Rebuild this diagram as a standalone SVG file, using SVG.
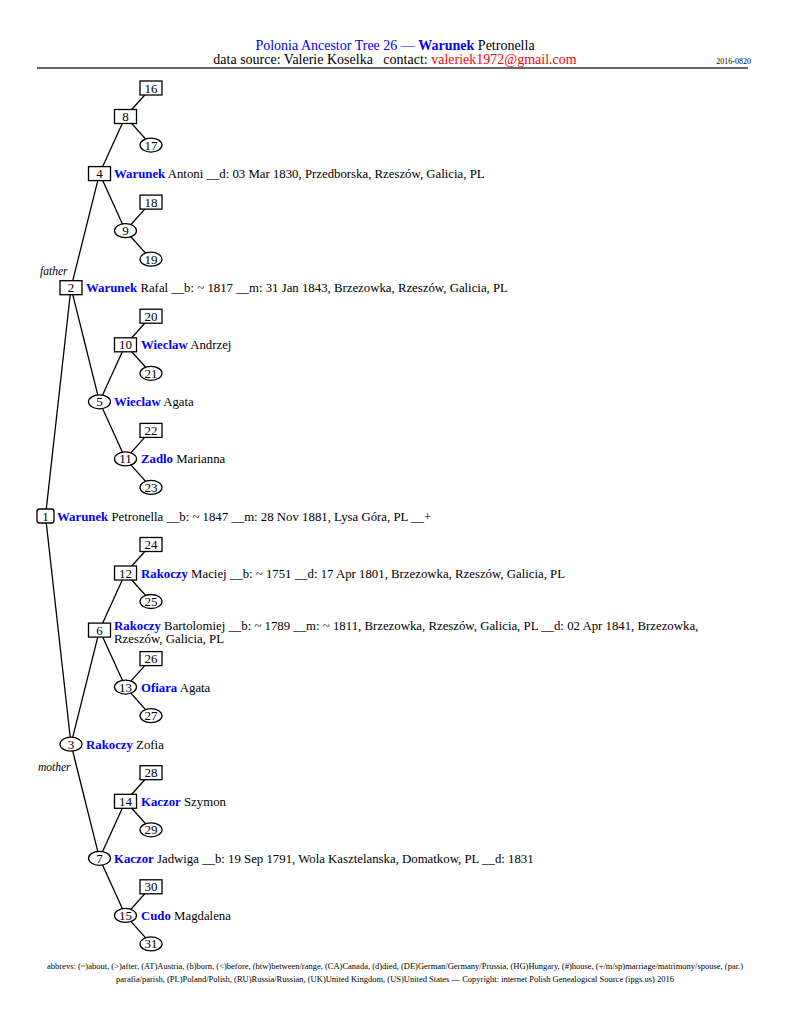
<svg xmlns="http://www.w3.org/2000/svg" width="791" height="1024" viewBox="0 0 791 1024">
<style>
text{font-family:"Liberation Serif","Times New Roman",serif;fill:#000}
.hd{font-size:14px}
.n{font-size:13px;text-anchor:middle}
.p{font-size:12.8px}
.s{font-weight:bold;fill:#0000ff}
.b{fill:#0000ff}
.r{fill:#ff0000}
.box{fill:#fff;stroke:#000;stroke-width:1.3}
.ln{stroke:#000;stroke-width:1.3;fill:none}
.lab{font-size:11.5px;font-style:italic}
.ft{font-size:8.5px;text-anchor:middle}
</style>
<rect width="791" height="1024" fill="#fff"/>
<g id="header">
<text class="hd" x="395" y="50" text-anchor="middle"><tspan class="b">Polonia Ancestor Tree 26 — </tspan><tspan class="s">Warunek</tspan> Petronella</text>
<text class="hd" x="395" y="64" text-anchor="middle" style="white-space:pre">data source: Valerie Koselka   contact: <tspan class="r">valeriek1972@gmail.com</tspan></text>
<text x="751" y="63.5" font-size="8" text-anchor="end">2016-0820</text>
<line x1="37" y1="68" x2="748" y2="68" stroke="#666" stroke-width="2"/>
</g>
<g id="connectors" class="ln">
<line x1="45.5" y1="516" x2="71" y2="287.7"/>
<line x1="45.5" y1="516" x2="71" y2="744.2"/>
<line x1="71" y1="287.7" x2="99.5" y2="173.6"/>
<line x1="71" y1="287.7" x2="99.5" y2="401.8"/>
<line x1="71" y1="744.2" x2="99.5" y2="630.1"/>
<line x1="71" y1="744.2" x2="99.5" y2="858.3"/>
<line x1="99.5" y1="173.6" x2="125.5" y2="116.5"/>
<line x1="99.5" y1="173.6" x2="125.5" y2="230.7"/>
<line x1="99.5" y1="401.8" x2="125.5" y2="344.8"/>
<line x1="99.5" y1="401.8" x2="125.5" y2="458.9"/>
<line x1="99.5" y1="630.1" x2="125.5" y2="573"/>
<line x1="99.5" y1="630.1" x2="125.5" y2="687.1"/>
<line x1="99.5" y1="858.3" x2="125.5" y2="801.3"/>
<line x1="99.5" y1="858.3" x2="125.5" y2="915.4"/>
<line x1="125.5" y1="116.5" x2="151" y2="88"/>
<line x1="125.5" y1="116.5" x2="151" y2="145.1"/>
<line x1="125.5" y1="230.7" x2="151" y2="202.1"/>
<line x1="125.5" y1="230.7" x2="151" y2="259.2"/>
<line x1="125.5" y1="344.8" x2="151" y2="316.2"/>
<line x1="125.5" y1="344.8" x2="151" y2="373.3"/>
<line x1="125.5" y1="458.9" x2="151" y2="430.4"/>
<line x1="125.5" y1="458.9" x2="151" y2="487.4"/>
<line x1="125.5" y1="573" x2="151" y2="544.5"/>
<line x1="125.5" y1="573" x2="151" y2="601.5"/>
<line x1="125.5" y1="687.1" x2="151" y2="658.6"/>
<line x1="125.5" y1="687.1" x2="151" y2="715.7"/>
<line x1="125.5" y1="801.3" x2="151" y2="772.7"/>
<line x1="125.5" y1="801.3" x2="151" y2="829.8"/>
<line x1="125.5" y1="915.4" x2="151" y2="886.8"/>
<line x1="125.5" y1="915.4" x2="151" y2="943.9"/>
</g>
<g id="labels">
<text class="lab" x="40" y="275">father</text>
<text class="lab" x="38" y="771">mother</text>
</g>
<g id="n1"><rect class="box" x="37" y="509" width="17" height="14" rx="2.5"/><text class="n" x="45.5" y="520.5">1</text><text class="p" x="57" y="520.5"><tspan class="s">Warunek</tspan> Petronella __b: ~ 1847 __m: 28 Nov 1881, Lysa Góra, PL __+</text></g>
<g id="n2"><rect class="box" x="60" y="280.7" width="22" height="14"/><text class="n" x="71" y="292.2">2</text><text class="p" x="86" y="292.2"><tspan class="s">Warunek</tspan> Rafal __b: ~ 1817 __m: 31 Jan 1843, Brzezowka, Rzeszów, Galicia, PL</text></g>
<g id="n3"><ellipse class="box" cx="71" cy="744.2" rx="11" ry="7"/><text class="n" x="71" y="748.7">3</text><text class="p" x="86" y="748.7"><tspan class="s">Rakoczy</tspan> Zofia</text></g>
<g id="n4"><rect class="box" x="88.5" y="166.6" width="22" height="14"/><text class="n" x="99.5" y="178.1">4</text><text class="p" x="114" y="178.1"><tspan class="s">Warunek</tspan> Antoni __d: 03 Mar 1830, Przedborska, Rzeszów, Galicia, PL</text></g>
<g id="n5"><ellipse class="box" cx="99.5" cy="401.8" rx="11" ry="7"/><text class="n" x="99.5" y="406.3">5</text><text class="p" x="114" y="406.3"><tspan class="s">Wieclaw</tspan> Agata</text></g>
<g id="n6"><rect class="box" x="88.5" y="623.1" width="22" height="14"/><text class="n" x="99.5" y="634.6">6</text><text class="p" x="114" y="629.5"><tspan class="s">Rakoczy</tspan> Bartolomiej __b: ~ 1789 __m: ~ 1811, Brzezowka, Rzeszów, Galicia, PL __d: 02 Apr 1841, Brzezowka,</text><text class="p" x="114" y="642.5">Rzeszów, Galicia, PL</text></g>
<g id="n7"><ellipse class="box" cx="99.5" cy="858.3" rx="11" ry="7"/><text class="n" x="99.5" y="862.8">7</text><text class="p" x="114" y="862.8"><tspan class="s">Kaczor</tspan> Jadwiga __b: 19 Sep 1791, Wola Kasztelanska, Domatkow, PL __d: 1831</text></g>
<g id="n8"><rect class="box" x="114.5" y="109.5" width="22" height="14"/><text class="n" x="125.5" y="121">8</text></g>
<g id="n9"><ellipse class="box" cx="125.5" cy="230.7" rx="11" ry="7"/><text class="n" x="125.5" y="235.2">9</text></g>
<g id="n10"><rect class="box" x="114.5" y="337.8" width="22" height="14"/><text class="n" x="125.5" y="349.3">10</text><text class="p" x="141" y="349.3"><tspan class="s">Wieclaw</tspan> Andrzej</text></g>
<g id="n11"><ellipse class="box" cx="125.5" cy="458.9" rx="11" ry="7"/><text class="n" x="125.5" y="463.4">11</text><text class="p" x="141" y="463.4"><tspan class="s">Zadlo</tspan> Marianna</text></g>
<g id="n12"><rect class="box" x="114.5" y="566" width="22" height="14"/><text class="n" x="125.5" y="577.5">12</text><text class="p" x="141" y="577.5"><tspan class="s">Rakoczy</tspan> Maciej __b: ~ 1751 __d: 17 Apr 1801, Brzezowka, Rzeszów, Galicia, PL</text></g>
<g id="n13"><ellipse class="box" cx="125.5" cy="687.1" rx="11" ry="7"/><text class="n" x="125.5" y="691.6">13</text><text class="p" x="141" y="691.6"><tspan class="s">Ofiara</tspan> Agata</text></g>
<g id="n14"><rect class="box" x="114.5" y="794.3" width="22" height="14"/><text class="n" x="125.5" y="805.8">14</text><text class="p" x="141" y="805.8"><tspan class="s">Kaczor</tspan> Szymon</text></g>
<g id="n15"><ellipse class="box" cx="125.5" cy="915.4" rx="11" ry="7"/><text class="n" x="125.5" y="919.9">15</text><text class="p" x="141" y="919.9"><tspan class="s">Cudo</tspan> Magdalena</text></g>
<g id="n16"><rect class="box" x="140" y="81" width="22" height="14"/><text class="n" x="151" y="92.5">16</text></g>
<g id="n17"><ellipse class="box" cx="151" cy="145.1" rx="11" ry="7"/><text class="n" x="151" y="149.6">17</text></g>
<g id="n18"><rect class="box" x="140" y="195.1" width="22" height="14"/><text class="n" x="151" y="206.6">18</text></g>
<g id="n19"><ellipse class="box" cx="151" cy="259.2" rx="11" ry="7"/><text class="n" x="151" y="263.7">19</text></g>
<g id="n20"><rect class="box" x="140" y="309.2" width="22" height="14"/><text class="n" x="151" y="320.7">20</text></g>
<g id="n21"><ellipse class="box" cx="151" cy="373.3" rx="11" ry="7"/><text class="n" x="151" y="377.8">21</text></g>
<g id="n22"><rect class="box" x="140" y="423.4" width="22" height="14"/><text class="n" x="151" y="434.9">22</text></g>
<g id="n23"><ellipse class="box" cx="151" cy="487.4" rx="11" ry="7"/><text class="n" x="151" y="491.9">23</text></g>
<g id="n24"><rect class="box" x="140" y="537.5" width="22" height="14"/><text class="n" x="151" y="549">24</text></g>
<g id="n25"><ellipse class="box" cx="151" cy="601.5" rx="11" ry="7"/><text class="n" x="151" y="606">25</text></g>
<g id="n26"><rect class="box" x="140" y="651.6" width="22" height="14"/><text class="n" x="151" y="663.1">26</text></g>
<g id="n27"><ellipse class="box" cx="151" cy="715.7" rx="11" ry="7"/><text class="n" x="151" y="720.2">27</text></g>
<g id="n28"><rect class="box" x="140" y="765.7" width="22" height="14"/><text class="n" x="151" y="777.2">28</text></g>
<g id="n29"><ellipse class="box" cx="151" cy="829.8" rx="11" ry="7"/><text class="n" x="151" y="834.3">29</text></g>
<g id="n30"><rect class="box" x="140" y="879.8" width="22" height="14"/><text class="n" x="151" y="891.3">30</text></g>
<g id="n31"><ellipse class="box" cx="151" cy="943.9" rx="11" ry="7"/><text class="n" x="151" y="948.4">31</text></g>
<g id="footer">
<text class="ft" x="395" y="969">abbrevs: (~)about, (&gt;)after, (AT)Austria, (b)born, (&lt;)before, (btw)between/range, (CA)Canada, (d)died, (DE)German/Germany/Prussia, (HG)Hungary, (#)house, (+/m/sp)marriage/matrimony/spouse, (par.)</text>
<text class="ft" x="395" y="981.5">parafia/parish, (PL)Poland/Polish, (RU)Russia/Russian, (UK)United Kingdom, (US)United States — Copyright: internet Polish Genealogical Source (ipgs.us) 2016</text>
</g>
</svg>
